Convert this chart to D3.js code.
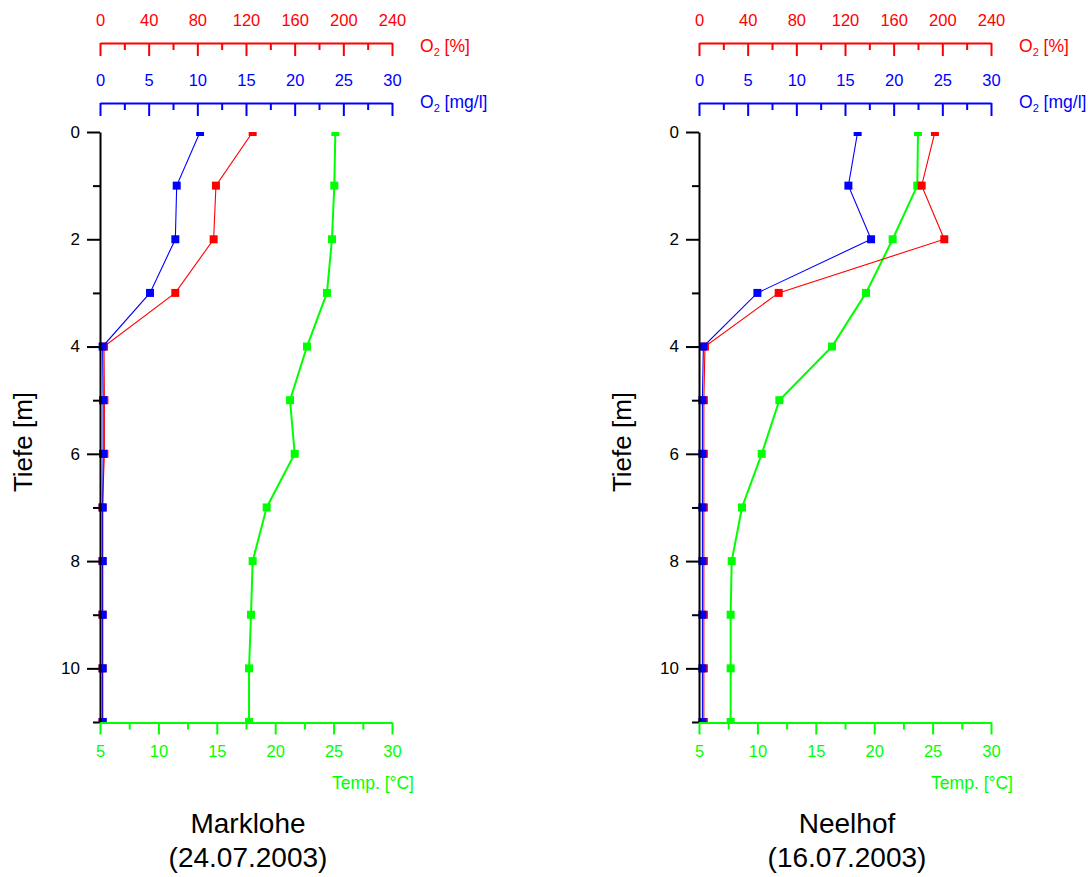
<!DOCTYPE html>
<html>
<head>
<meta charset="utf-8">
<script src="https://cdn.jsdelivr.net/npm/d3@7"></script>
<style>
  html, body { margin: 0; padding: 0; background: #fff; }
  svg { display: block; font-family: "Liberation Sans", Arial, sans-serif; }
</style>
</head>
<body>
<svg id="chart" width="1088" height="877"></svg>
<script>
// ---- data ----
const depths = [0, 1, 2, 3, 4, 5, 6, 7, 8, 9, 10, 11];

const markloheTemp = [25.15, 25.06, 24.86, 24.43, 22.72, 21.27, 21.67, 19.27, 18.07, 17.93, 17.76, 17.76];
const markloheO2mg = [10.28, 7.88, 7.74, 5.14, 0.27, 0.32, 0.32, 0.28, 0.28, 0.28, 0.28, 0.28];
const markloheO2pct = [125.5, 95.3, 93.4, 61.9, 3.3, 3.6, 3.6, 2.0, 2.0, 2.0, 2.0, 2.0];

const neelhofTemp = [23.75, 23.69, 21.58, 19.3, 16.39, 11.88, 10.37, 8.68, 7.8, 7.71, 7.71, 7.71];
const neelhofO2mg = [16.3, 15.35, 17.68, 6.0, 0.45, 0.35, 0.35, 0.35, 0.35, 0.35, 0.35, 0.35];
const neelhofO2pct = [193.9, 183.0, 201.6, 65.5, 4.9, 4.0, 4.0, 4.0, 4.0, 4.0, 4.0, 4.0];

const o2PctTicks = [0, 40, 80, 120, 160, 200, 240];
const o2PctMinor = [20, 60, 100, 140, 180, 220];
const o2MgTicks = [0, 5, 10, 15, 20, 25, 30];
const o2MgMinor = [2.5, 7.5, 12.5, 17.5, 22.5, 27.5];
const tempTicks = [5, 10, 15, 20, 25, 30];
const tempMinor = [7.5, 12.5, 17.5, 22.5, 27.5];
const depthTicks = [0, 2, 4, 6, 8, 10];
const depthMinor = [1, 3, 5, 7, 9, 11];

const panelNames = ["Marklohe", "Neelhof"];
const panelDates = ["(24.07.2003)", "(16.07.2003)"];

// ---- layout ----
const RED = "#ff0000", BLUE = "#0000ff", GREEN = "#00ff00";
const svg = d3.select("#chart");
const panels = [
  { x0: 100, name: panelNames[0], date: panelDates[0], temp: markloheTemp, mg: markloheO2mg, pct: markloheO2pct },
  { x0: 699, name: panelNames[1], date: panelDates[1], temp: neelhofTemp, mg: neelhofO2mg, pct: neelhofO2pct }
];
const PW = 292;
const yTop = 132, yBot = 722;

const y = d3.scaleLinear().domain([0, 11]).range([yTop, yBot]);

panels.forEach((p, i) => {
  const g = svg.append("g");
  const xPct = d3.scaleLinear().domain([0, 240]).range([p.x0, p.x0 + PW]);
  const xMg = d3.scaleLinear().domain([0, 30]).range([p.x0, p.x0 + PW]);
  const xT = d3.scaleLinear().domain([5, 30]).range([p.x0, p.x0 + PW]);

  const clipId = "clip" + i;
  svg.append("defs").append("clipPath").attr("id", clipId)
    .append("rect").attr("x", p.x0 - 30).attr("y", yTop).attr("width", PW + 60).attr("height", yBot - yTop);

  const dataG = g.append("g").attr("clip-path", `url(#${clipId})`);

  const series = [
    { vals: p.temp, x: xT, color: GREEN, w: 2 },
    { vals: p.pct, x: xPct, color: RED, w: 1.1 },
    { vals: p.mg, x: xMg, color: BLUE, w: 1.1 }
  ];
  series.forEach(s => {
    const pts = depths.map((d, k) => [s.x(s.vals[k]), y(d)]);
    dataG.append("path")
      .attr("d", d3.line()(pts))
      .attr("fill", "none").attr("stroke", s.color).attr("stroke-width", s.w);
    dataG.selectAll(null).data(pts).enter().append("rect")
      .attr("x", d => d[0] - 4).attr("y", d => d[1] - 4)
      .attr("width", 8).attr("height", 8)
      .attr("fill", s.color);
  });

  function styleAxis(sel, color, fs) {
    sel.selectAll("path").attr("stroke", color).attr("stroke-width", 2);
    sel.selectAll("line").attr("stroke", color).attr("stroke-width", 2);
    sel.selectAll("text").attr("fill", color).style("font-size", fs + "px")
      .style("font-family", '"Liberation Sans", Arial, sans-serif');
  }

  const redG = g.append("g").attr("transform", "translate(0,43)");
  redG.call(d3.axisTop(xPct).tickValues(o2PctTicks).tickFormat(d3.format("d"))
    .tickSizeInner(-13).tickSizeOuter(0).tickPadding(17));
  redG.append("g").call(d3.axisTop(xPct).tickValues(o2PctMinor).tickFormat("")
    .tickSizeInner(-7).tickSizeOuter(0)).select(".domain").remove();
  styleAxis(redG, RED, 16.5);

  const blueG = g.append("g").attr("transform", "translate(0,103)");
  blueG.call(d3.axisTop(xMg).tickValues(o2MgTicks).tickFormat(d3.format("d"))
    .tickSizeInner(-13).tickSizeOuter(0).tickPadding(17));
  blueG.append("g").call(d3.axisTop(xMg).tickValues(o2MgMinor).tickFormat("")
    .tickSizeInner(-7).tickSizeOuter(0)).select(".domain").remove();
  styleAxis(blueG, BLUE, 16.5);

  const yG = g.append("g").attr("transform", `translate(${p.x0},0)`);
  yG.call(d3.axisLeft(y).tickValues(depthTicks).tickFormat(d3.format("d"))
    .tickSizeInner(13).tickSizeOuter(0).tickPadding(7));
  yG.append("g").call(d3.axisLeft(y).tickValues(depthMinor).tickFormat("")
    .tickSizeInner(7).tickSizeOuter(0)).select(".domain").remove();
  styleAxis(yG, "#000", 17);

  const gG = g.append("g").attr("transform", `translate(0,${yBot + 0.5})`);
  gG.call(d3.axisBottom(xT).tickValues(tempTicks).tickFormat(d3.format("d"))
    .tickSizeInner(12).tickSizeOuter(0).tickPadding(11));
  gG.append("g").call(d3.axisBottom(xT).tickValues(tempMinor).tickFormat("")
    .tickSizeInner(7).tickSizeOuter(0)).select(".domain").remove();
  styleAxis(gG, GREEN, 16.5);

  function o2Title(yb, unit, color) {
    const t = g.append("text").attr("x", p.x0 + 320).attr("y", yb)
      .attr("fill", color).style("font-size", "17.5px");
    t.append("tspan").text("O");
    t.append("tspan").text("2").attr("dy", 4).style("font-size", "11px");
    t.append("tspan").text(" " + unit).attr("dy", -4);
  }
  o2Title(52, "[%]", RED);
  o2Title(108, "[mg/l]", BLUE);

  g.append("text").attr("x", p.x0 + 314).attr("y", 789)
    .attr("text-anchor", "end").attr("fill", GREEN).style("font-size", "17.5px")
    .text("Temp. [°C]");

  g.append("text")
    .attr("transform", `translate(${p.x0 - 68},442) rotate(-90)`)
    .attr("text-anchor", "middle").attr("fill", "#000").style("font-size", "26px")
    .text("Tiefe [m]");

  g.append("text").attr("x", p.x0 + PW / 2 + 2).attr("y", 833)
    .attr("text-anchor", "middle").style("font-size", "28px").text(p.name);
  g.append("text").attr("x", p.x0 + PW / 2 + 2).attr("y", 867)
    .attr("text-anchor", "middle").style("font-size", "28px").text(p.date);
});
</script>
</body>
</html>
